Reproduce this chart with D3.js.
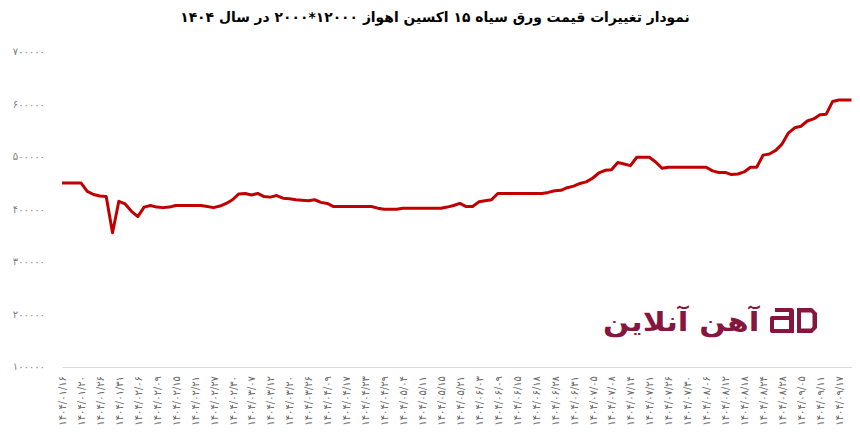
<!DOCTYPE html>
<html><head><meta charset="utf-8">
<script src="https://cdn.jsdelivr.net/npm/d3@7/dist/d3.min.js"></script>
<style>
body{margin:0;background:#fff;}
svg{display:block;font-family:"DejaVu Sans",sans-serif;}
</style></head>
<body>
<svg id="c" width="860" height="445"></svg>
<script>
const titleText = "نمودار تغییرات قیمت ورق سیاه ۱۵ اکسین اهواز ۱۲۰۰۰*۲۰۰۰ در سال ۱۴۰۴";
const logoText = "آهن آنلاین";
const tickLabels = [
"۱۴۰۴/۰۱/۱۶","۱۴۰۴/۰۱/۲۰","۱۴۰۴/۰۱/۲۶","۱۴۰۴/۰۱/۳۱","۱۴۰۴/۰۲/۰۶","۱۴۰۴/۰۲/۰۹",
"۱۴۰۴/۰۲/۱۵","۱۴۰۴/۰۲/۲۱","۱۴۰۴/۰۲/۲۷","۱۴۰۴/۰۲/۳۰","۱۴۰۴/۰۳/۰۷","۱۴۰۴/۰۳/۱۲",
"۱۴۰۴/۰۳/۲۰","۱۴۰۴/۰۳/۲۶","۱۴۰۴/۰۴/۰۹","۱۴۰۴/۰۴/۱۷","۱۴۰۴/۰۴/۲۳","۱۴۰۴/۰۴/۲۹",
"۱۴۰۴/۰۵/۰۴","۱۴۰۴/۰۵/۱۱","۱۴۰۴/۰۵/۱۵","۱۴۰۴/۰۵/۲۱","۱۴۰۴/۰۶/۰۳","۱۴۰۴/۰۶/۰۹",
"۱۴۰۴/۰۶/۱۵","۱۴۰۴/۰۶/۱۸","۱۴۰۴/۰۶/۲۸","۱۴۰۴/۰۶/۳۱","۱۴۰۴/۰۷/۰۵","۱۴۰۴/۰۷/۰۸",
"۱۴۰۴/۰۷/۱۴","۱۴۰۴/۰۷/۲۱","۱۴۰۴/۰۷/۲۶","۱۴۰۴/۰۷/۳۰","۱۴۰۴/۰۸/۰۶","۱۴۰۴/۰۸/۱۲",
"۱۴۰۴/۰۸/۱۸","۱۴۰۴/۰۸/۲۴","۱۴۰۴/۰۸/۲۸","۱۴۰۴/۰۹/۰۵","۱۴۰۴/۰۹/۱۱","۱۴۰۴/۰۹/۱۷"];
const labelEvery = 3;
const prices = [
450000,450000,450000,450000,434000,428000,425000,424000,355000,415000,
410000,396000,386000,404000,407000,404000,403000,404000,407000,407000,
407000,407000,407000,405000,403000,406000,411000,418000,429000,430000,
427000,430000,424000,423000,426000,421000,420000,418000,417000,416000,
418000,413000,411000,405000,405000,405000,405000,405000,405000,405000,
402000,400000,400000,400000,402000,402000,402000,402000,402000,402000,
402000,404000,407000,411000,405000,405000,414000,416000,418000,430000,
430000,430000,430000,430000,430000,430000,430000,432000,435000,436000,
441000,444000,449000,452000,459000,469000,474000,475000,489000,486000,
483000,499000,499000,499000,490000,478000,480000,480000,480000,480000,
480000,480000,480000,473000,470000,470000,466000,467000,471000,480000,
480000,503000,505000,512000,524000,545000,555000,558000,568000,572000,
580000,581000,605000,608000,608000,608000];
const yTicks = [100000,200000,300000,400000,500000,600000,700000];

const fa = s => String(s).replace(/[0-9]/g, d => "۰۱۲۳۴۵۶۷۸۹"[+d]);
const svg = d3.select("#c");
const idx = d3.range(prices.length);
const x = d3.scalePoint().domain(idx).range([62, 851.5]);
const y = d3.scaleLinear().domain([100000, 700000]).range([366.7, 51.7]);

// title
const t = svg.append("text").attr("x", 435).attr("y", 22).attr("text-anchor", "middle")
  .attr("direction", "rtl").attr("font-weight", "bold").attr("font-size", 15).attr("fill", "#000")
  .text(titleText);
const tw = t.node().getComputedTextLength();
t.attr("font-size", 15 * 510 / tw);

// y axis
const ya = svg.append("g").attr("transform", "translate(48,0)")
  .call(d3.axisLeft(y).tickValues(yTicks).tickSize(0).tickPadding(3).tickFormat(fa));
ya.select(".domain").remove();
ya.selectAll("text").attr("font-size", 10).attr("fill", "#7f7f7f").attr("font-family", "DejaVu Sans");

// x axis
const xa = svg.append("g").attr("transform", "translate(0,367)")
  .call(d3.axisBottom(x).tickValues(idx.filter(i => i % labelEvery === 0))
    .tickSize(0).tickFormat(i => tickLabels[i / labelEvery]));
xa.select(".domain").attr("stroke", "#d9d9d9").attr("stroke-width", 1);
xa.selectAll("text").attr("font-size", 10).attr("fill", "#666").attr("font-family", "DejaVu Sans")
  .attr("transform", "rotate(-90)").attr("text-anchor", "end").attr("x", -9).attr("y", 0).attr("dy", "0.35em");

// logo
const maroon = "#86163d";
const lg = svg.append("g");
const lt = lg.append("text").attr("direction", "rtl").attr("font-weight", "bold")
  .attr("font-size", 30).attr("fill", maroon).text(logoText);
const bb = lt.node().getBBox();
const sx = 157 / bb.width, sy = 32 / bb.height;
lt.attr("transform", `translate(603,${305}) scale(${sx},${sy}) translate(${-bb.x},${-bb.y})`);
// icon
const ic = svg.append("g").attr("fill", maroon);
ic.append("path").attr("fill-rule", "evenodd")
  .attr("d", "M775,308 L791,308 Q794,308 794,311 L794,333 L772,333 Q770,333 770,331 L770,318 Q770,316 772,316 L789,316 L789,312 L775,312 Z M774,320 L789,320 L789,329 L774,329 Z");
ic.append("path").attr("fill-rule", "evenodd")
  .attr("d", "M797,308 L812,308 L817,313 L817,328 L812,333 L797,333 Z M801,312.5 L811,312.5 L812.5,314 L812.5,327 L811,328.5 L801,328.5 Z");

// line
svg.append("path").datum(prices)
  .attr("fill", "none").attr("stroke", "#c00000").attr("stroke-width", 3).attr("stroke-linejoin", "round")
  .attr("d", d3.line().x((d, i) => x(i)).y(d => y(d)));
</script>
</body></html>
